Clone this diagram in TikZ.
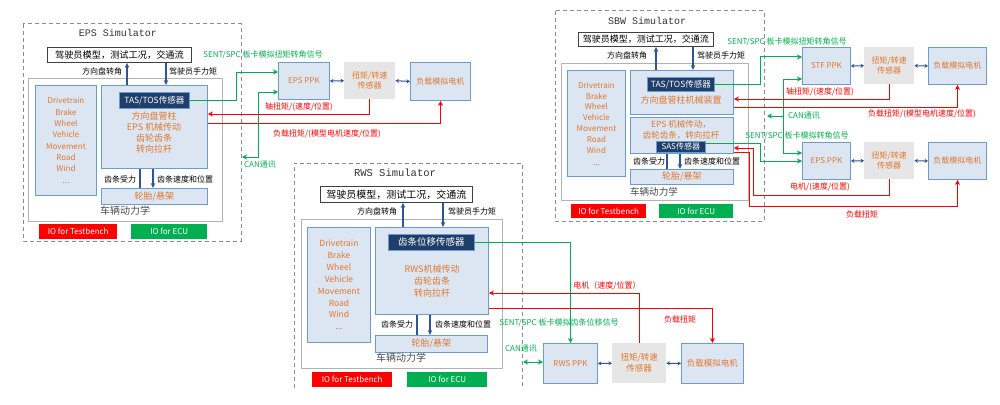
\documentclass[tikz,border=0pt]{standalone}
\usepackage{fontspec}
\setmainfont{Noto Sans CJK SC}
\newfontfamily\monof{Liberation Mono}
\usetikzlibrary{arrows.meta}
\definecolor{lblue}{HTML}{DCE6F2}
\definecolor{bblue}{HTML}{6A9BD1}
\definecolor{dblue}{HTML}{1F3F6A}
\definecolor{ora}{HTML}{E0772F}
\definecolor{gbox}{HTML}{E6E6E6}
\definecolor{ared}{HTML}{FF0000}
\definecolor{agreen}{HTML}{00B050}
\definecolor{ablue}{HTML}{2F5597}
\definecolor{dgray}{HTML}{8C8C8C}
\newcommand\fs[1]{\fontsize{#1}{#1}\selectfont}
\newcommand\fsl[2]{\fontsize{#1}{#2}\selectfont}
\newcommand\bx[7]{\pgfmathsetmacro\bw{#5-#3}\pgfmathsetmacro\bh{#6-#4}%
  \node[#2,anchor=north west,minimum width=\bw pt,minimum height=\bh pt] (#1) at (#3,#4) {#7};}
\tikzset{
  dashbx/.style={draw=dgray, line width=1pt, dash pattern=on 4pt off 3pt},
  drv/.style={draw=black!75, line width=0.9pt, fill=white, inner sep=0},
  veh/.style={draw=black!30, line width=0.9pt, fill=white, inner sep=0},
  bb/.style={draw=bblue, line width=0.9pt, fill=lblue, inner sep=0, text=ora, align=center},
  sens/.style={draw=bblue, line width=0.6pt, fill=dblue, text=white, inner sep=0},
  gb/.style={fill=gbox, inner sep=0, text=ora, align=center},
  ior/.style={fill=ared, text=white, inner sep=0, font=\fs{8}},
  iog/.style={fill=agreen, text=white, inner sep=0, font=\fs{8}},
  lab/.style={inner sep=0, font=\fs{8}},
  rlab/.style={lab, text=ared},
  glab/.style={lab, text=agreen},
  olab/.style={inner sep=0, text=ora, align=center},
  ttl/.style={inner sep=0, font=\monof\fs{10}, text=black!80},
  vd/.style={inner sep=0, font=\fs{10}, text=black!70},
  ba/.style={draw=ablue, line width=1.1pt, -{Stealth[length=5pt,width=4.5pt]}},
  bl/.style={draw=ablue, line width=1.1pt},
  dbl/.style={draw=ablue, line width=1pt, {Stealth[length=3.5pt,width=4pt]}-{Stealth[length=3.5pt,width=4pt]}},
  gl/.style={draw=agreen, line width=1pt},
  rl/.style={draw=ared, line width=1pt},
  tip/.style={-{Stealth[length=5pt,width=5pt]}},
  tips/.style={{Stealth[length=5pt,width=5pt]}-{Stealth[length=5pt,width=5pt]}}
}
\begin{document}
\begin{tikzpicture}[x=1pt,y=-1pt]
\useasboundingbox (0,0) rectangle (1000,404);
\fill[white] (0,0) rectangle (1000,404);

% ================= EPS Simulator =================
\draw[dashbx] (23,24) rectangle (241,241);
\node[ttl] (tE) at (118,33) {EPS Simulator};
\bx{drvE}{drv,font=\fs{9.2}}{47}{47}{191}{62}{驾驶员模型，测试工况，交通流}
\bx{vehE}{veh}{28}{78}{222}{221}{}
\bx{leftE}{bb,font=\fsl{8}{11.3}}{35}{85}{96}{195}{Drivetrain\\Brake\\Wheel\\Vehicle\\Movement\\Road\\Wind\\...}
\bx{mainE}{bb}{101}{85}{207}{168}{}
\bx{sensE}{sens,font=\fs{8.5}}{119}{92}{189}{108}{TAS/TOS传感器}
\node[olab,font=\fsl{9}{11}] (oE) at (154,132.5) {方向盘管柱\\EPS 机械传动\\齿轮齿条\\转向拉杆};
\bx{tireE}{bb,font=\fs{9}}{101}{188}{207}{204}{轮胎/悬架}
\node[vd] (vdE) at (125,211) {车辆动力学};
\bx{iorE}{ior}{39}{224}{117}{239}{IO for Testbench}
\bx{iogE}{iog}{131}{224}{207}{239}{IO for ECU}
\draw[ba] (mainE.north -| 127,0) -- (drvE.south -| 127,0);
\draw[ba] (drvE.south -| 166,0) -- (mainE.north -| 166,0);
\node[lab] (l1E) at (102,71) {方向盘转角};
\node[lab] (l2E) at (193,71) {驾驶员手力矩};
\draw[bl] (mainE.south -| 140,0) -- (tireE.north -| 140,0);
\draw[ba] (mainE.south -| 153,0) -- (tireE.north -| 153,0);
\node[lab] (l3E) at (120,179) {齿条受力};
\node[lab] (l4E) at (185,179) {齿条速度和位置};

\bx{ppkE}{bb,font=\fs{8}}{278}{62}{329}{99}{EPS PPK}
\bx{tsE}{gb,font=\fsl{8}{10}}{344}{62}{395}{99}{扭矩/转速\\传感器}
\bx{lmE}{bb,font=\fs{8}}{410}{62}{470}{100}{负载模拟电机}
\draw[dbl] (ppkE.east) -- (tsE.west);
\draw[dbl] (tsE.east) -- (lmE.west);

\draw[gl,tip] (sensE.east) -| (236,72) -- (ppkE.west |- 0,72);
\coordinate (canE) at (242,157);
\draw[gl,tips] (canE) -| (258,92) -- (ppkE.west |- 0,92);
\node[glab] (g1E) at (263,55) {SENT/SPC 板卡模拟扭矩转角信号};
\node[glab] (g2E) at (260,165) {CAN通讯};
\draw[rl,tip] (tsE.south) |- (mainE.east |- 0,114);
\draw[rl,tip] (mainE.east |- 0,123) -| (lmE.south);
\node[rlab] (r1E) at (299,107) {轴扭矩/(速度/位置)};
\node[rlab] (r2E) at (327,134) {负载扭矩/(模型电机速度/位置)};

% ================= RWS Simulator =================
\draw[dashbx] (294,388) -- (294,163) -- (522,163) -- (522,388);
\node[ttl,font=\monof\fs{10.5}] (tR) at (395,173) {RWS Simulator};
\bx{drvR}{drv,font=\fs{10}}{320}{186}{472}{202}{驾驶员模型，测试工况，交通流}
\bx{vehR}{veh}{301}{219}{502}{368}{}
\bx{leftR}{bb,font=\fsl{8.5}{11.9}}{307}{227}{370}{342}{Drivetrain\\Brake\\Wheel\\Vehicle\\Movement\\Road\\Wind\\...}
\bx{mainR}{bb}{375}{227}{488}{314}{}
\bx{sensR}{sens,font=\fs{9.5}}{388}{234}{474}{250}{齿条位移传感器}
\node[olab,font=\fsl{9}{12}] (oR) at (432,281) {RWS机械传动\\齿轮齿条\\转向拉杆};
\bx{tireR}{bb,font=\fs{9}}{375}{335}{487}{352}{轮胎/悬架}
\node[vd] (vdR) at (401,358) {车辆动力学};
\bx{iorR}{ior}{312}{372}{392}{387}{IO for Testbench}
\bx{iogR}{iog}{407}{372}{487}{387}{IO for ECU}
\draw[ba] (mainR.north -| 403,0) -- (drvR.south -| 403,0);
\draw[ba] (drvR.south -| 443,0) -- (mainR.north -| 443,0);
\node[lab] (l1R) at (377,211) {方向盘转角};
\node[lab] (l2R) at (472,211) {驾驶员手力矩};
\draw[bl] (mainR.south -| 417,0) -- (tireR.north -| 417,0);
\draw[ba] (mainR.south -| 430,0) -- (tireR.north -| 430,0);
\node[lab] (l3R) at (397,324) {齿条受力};
\node[lab] (l4R) at (463,324) {齿条速度和位置};

\bx{ppkR}{bb,font=\fs{8}}{543}{343}{597}{383}{RWS PPK}
\bx{tsR}{gb,font=\fsl{8.5}{11}}{612}{343}{666}{383}{扭矩/转速\\传感器}
\bx{lmR}{bb,font=\fs{8.5}}{681}{343}{743}{383}{负载模拟电机}
\draw[dbl] (ppkR.east) -- (tsR.west);
\draw[dbl] (tsR.east) -- (lmR.west);

\draw[gl,tip] (sensR.east) -| (ppkR.north);
\node[glab] (g1R) at (559,323) {SENT/SPC 板卡模拟齿条位移信号};
\coordinate (canR) at (523,362);
\draw[gl,tips] (canR) -- (ppkR.west |- canR);
\node[glab] (g2R) at (521,349) {CAN通讯};
\draw[rl,tip] (tsR.north) |- (mainR.east |- 0,293);
\draw[rl,tip] (mainR.east |- 0,308) -| (lmR.north);
\node[rlab] (r1R) at (607,286) {电机（速度/位置）};
\node[rlab] (r2R) at (680,319) {负载扭矩};

% ================= SBW Simulator =================
\draw[dashbx] (555,11) rectangle (764,221);
\node[ttl] (tS) at (647,21) {SBW Simulator};
\bx{drvS}{drv,font=\fs{9}}{578}{32}{713}{46}{驾驶员模型，测试工况，交通流}
\bx{vehS}{veh}{561}{63}{748}{200}{}
\bx{leftS}{bb,font=\fsl{8}{11}}{567}{70}{625}{176}{Drivetrain\\Brake\\Wheel\\Vehicle\\Movement\\Road\\Wind\\...}
\bx{upS}{bb}{630}{70}{733}{114}{}
\bx{tasS}{sens,font=\fs{8.5}}{647}{77}{714}{91}{TAS/TOS传感器}
\node[olab,font=\fs{9}] (oS1) at (681,100) {方向盘管柱机械装置};
\bx{lowS}{bb}{630}{117}{733}{153}{}
\node[olab,font=\fsl{8.5}{10.5}] (oS2) at (681,130) {EPS 机械传动，\\齿轮齿条，转向拉杆};
\bx{sasS}{sens,font=\fs{8}}{656}{141}{705}{152}{SAS传感器}
\bx{tireS}{bb,font=\fs{9}}{630}{169}{733}{184}{轮胎/悬架}
\node[vd,font=\fs{9.6}] (vdS) at (654,192) {车辆动力学};
\bx{iorS}{ior}{571}{204}{646}{218}{IO for Testbench}
\bx{iogS}{iog}{659}{204}{733}{218}{IO for ECU}
\draw[ba] (upS.north -| 656,0) -- (drvS.south -| 656,0);
\draw[ba] (drvS.south -| 693,0) -- (upS.north -| 693,0);
\node[lab] (l1S) at (627,55) {方向盘转角};
\node[lab] (l2S) at (721,55) {驾驶员手力矩};
\draw[bl] (lowS.south -| 667,0) -- (tireS.north -| 667,0);
\draw[ba] (lowS.south -| 680,0) -- (tireS.north -| 680,0);
\node[lab] (l3S) at (649,161) {齿条受力};
\node[lab] (l4S) at (712,161) {齿条速度和位置};

\bx{stfS}{bb,font=\fs{8}}{802}{47}{850}{84}{STF PPK}
\bx{ts1S}{gb,font=\fsl{8}{10}}{864}{47}{914}{84}{扭矩/转速\\传感器}
\bx{lm1S}{bb,font=\fs{8}}{928}{47}{986}{84}{负载模拟电机}
\draw[dbl] (stfS.east) -- (ts1S.west);
\draw[dbl] (ts1S.east) -- (lm1S.west);
\bx{epsS}{bb,font=\fs{8}}{802}{142}{850}{179}{EPS PPK}
\bx{ts2S}{gb,font=\fsl{8}{10}}{864}{142}{914}{179}{扭矩/转速\\传感器}
\bx{lm2S}{bb,font=\fs{8}}{928}{142}{986}{179}{负载模拟电机}
\draw[dbl] (epsS.east) -- (ts2S.west);
\draw[dbl] (ts2S.east) -- (lm2S.west);

\draw[gl,tip] (tasS.east) -| (760,57) -- (stfS.west |- 0,57);
\node[glab] (g1S) at (787,42) {SENT/SPC 板卡模拟扭矩转角信号};
\draw[gl,tips] (stfS.west |- 0,79) -| (783,153) -- (epsS.west |- 0,153);
\coordinate (canS) at (767,116);
\draw[gl,tip] (783,116) -- (canS);
\node[glab] (g2S) at (804,116) {CAN通讯};
\draw[gl,tip] (sasS.east |- 0,143) -| (760,161) -- (epsS.west |- 0,161);
\node[glab] (g3S) at (797,136) {SENT/SPC 板卡模拟转角信号};

\draw[rl,tip] (ts1S.south) |- (upS.east |- 0,99);
\draw[rl,tip] (upS.east |- 0,107) -| (lm1S.south);
\node[rlab] (r1S) at (820,92) {轴扭矩/(速度/位置)};
\node[rlab] (r2S) at (922,114) {负载扭矩/(模型电机速度/位置)};
\draw[rl,tip] (ts2S.south) |- (753,195) -- (753,148) -- (lowS.east |- 0,148);
\draw[rl,tip] (lowS.east |- 0,152) -- (749,152) -- (749,206) -| (lm2S.south);
\node[rlab] (r3S) at (820,187) {电机/(速度/位置)};
\node[rlab] (r4S) at (862,214) {负载扭矩};
\end{tikzpicture}
\end{document}
